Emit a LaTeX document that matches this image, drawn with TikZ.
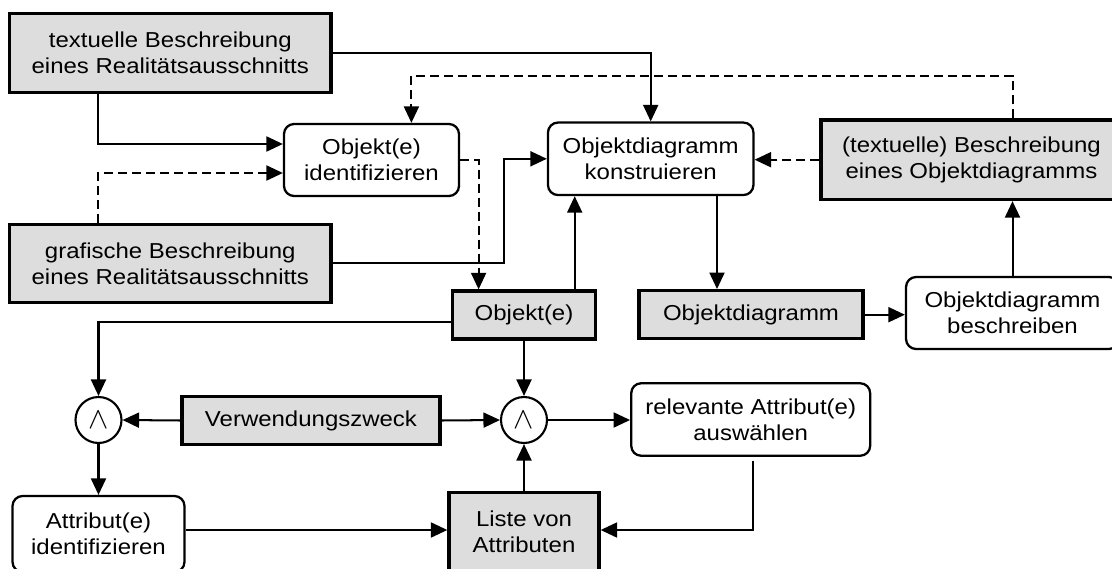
\documentclass[tikz,border=0pt]{standalone}
\usepackage{fontspec}
\setmainfont{Liberation Sans}[FakeStretch=1.11]
\usetikzlibrary{arrows.meta}
\definecolor{boxgray}{RGB}{221,221,221}
\tikzset{
  every node/.style={font=\fontsize{12.3pt}{14.8pt}\selectfont, align=center, inner sep=0pt},
  graybox/.style={draw, line width=1.9pt, fill=boxgray, rectangle},
  roundbox/.style={draw, line width=1.3pt, rounded corners=0.2cm, fill=white, rectangle},
  andnode/.style={draw, circle, line width=1.2pt, minimum size=0.92cm, fill=white,
                  font=\fontsize{17pt}{17pt}\selectfont},
  conn/.style={line width=1.15pt, -{Triangle[length=0.33cm, width=0.3cm]}},
  dashconn/.style={conn, dash pattern=on 0.18cm off 0.1cm},
}
\begin{document}
\begin{tikzpicture}[x=0.02cm, y=-0.02cm]
\useasboundingbox (0,0) rectangle (1112,568);

% boxes (inputs and results are gray, activities are rounded)
\node[graybox, minimum width=6.43cm, minimum height=1.58cm] (tb) at (170.3,52.8)
  {textuelle Beschreibung\\eines Realitätsausschnitts};
\node[roundbox, minimum width=3.5cm, minimum height=1.44cm] (oi) at (371.5,160)
  {Objekt(e)\\identifizieren};
\node[graybox, minimum width=6.43cm, minimum height=1.56cm] (gb) at (170.3,263.3)
  {grafische Beschreibung\\eines Realitätsausschnitts};
\node[roundbox, minimum width=4.11cm, minimum height=1.45cm] (ok) at (650.7,158.8)
  {Objektdiagramm\\konstruieren};
\node[graybox, minimum width=6.02cm, minimum height=1.59cm] (tob) at (971.5,159.7)
  {(textuelle) Beschreibung\\eines Objektdiagramms};
\node[graybox, minimum width=2.86cm, minimum height=0.96cm] (obj) at (524,315)
  {Objekt(e)};
\node[graybox, minimum width=4.48cm, minimum height=0.96cm] (od) at (751,314.7)
  {Objektdiagramm};
\node[roundbox, minimum width=4.26cm, minimum height=1.44cm] (odb) at (1012.5,313)
  {Objektdiagramm\\beschreiben};
\node[andnode] (c1) at (98.5,420) {$\wedge$};
\node[graybox, minimum width=5.16cm, minimum height=0.95cm] (vz) at (311,420.5)
  {Verwendungszweck};
\node[andnode] (c2) at (524,420) {$\wedge$};
\node[roundbox, minimum width=4.78cm, minimum height=1.45cm] (ra) at (750.7,419.5)
  {relevante Attribut(e)\\auswählen};
\node[roundbox, minimum width=3.44cm, minimum height=1.52cm] (ai) at (98.5,534)
  {Attribut(e)\\identifizieren};
\node[graybox, minimum width=3.0cm, minimum height=1.57cm] (lv) at (524,532)
  {Liste von\\Attributen};

% bend points of the connectors
\coordinate (k1) at (98,144);
\coordinate (k2) at (98,173);
\coordinate (k3) at (503.6,263.3);
\coordinate (k4) at (478.6,0);
\coordinate (k6) at (1012.5,76);
\coordinate (k6b) at (411.4,76);
\coordinate (k8) at (574.7,0);
\coordinate (k9) at (717,0);
\coordinate (k12) at (0,321.7);
\coordinate (k17) at (753.4,530);

% connectors
\draw[conn] (tb.south -| k1) |- (oi.west |- k1);
\draw[dashconn] (gb.north -| k2) |- (oi.west |- k2);
\draw[conn] (gb.east) -- (k3) |- (ok.west);
\draw[dashconn] (oi.east) -| (obj.north -| k4);
\draw[conn] (tb.east) -| (ok.north);
\draw[dashconn] (tob.north -| k6) |- (k6b) -- (oi.north -| k6b);
\draw[dashconn] (tob.west) -- (ok.east |- tob.west);
\draw[conn] (obj.north -| k8) -- (ok.south -| k8);
\draw[conn] (ok.south -| k9) -- (od.north -| k9);
\draw[conn] (od.east) -- (odb.west |- od.east);
\draw[conn] (odb.north) -- (tob.south -| odb.north);
\draw[conn] (obj.west |- k12) -| (c1.north);
\draw[conn] (vz.west) -- (c1.east);
\draw[conn] (vz.east) -- (c2.west);
\draw[conn] (obj.south) -- (c2.north);
\draw[conn] (c2.east) -- (ra.west |- c2.east);
\draw[conn, shorten <=0.08cm] (ra.south -| k17) |- (lv.east |- k17);
\draw[conn] (lv.north) -- (c2.south);
\draw[conn] (c1.south) -- (ai.north);
\draw[conn] (ai.east |- k17) -- (lv.west |- k17);
\end{tikzpicture}
\end{document}
